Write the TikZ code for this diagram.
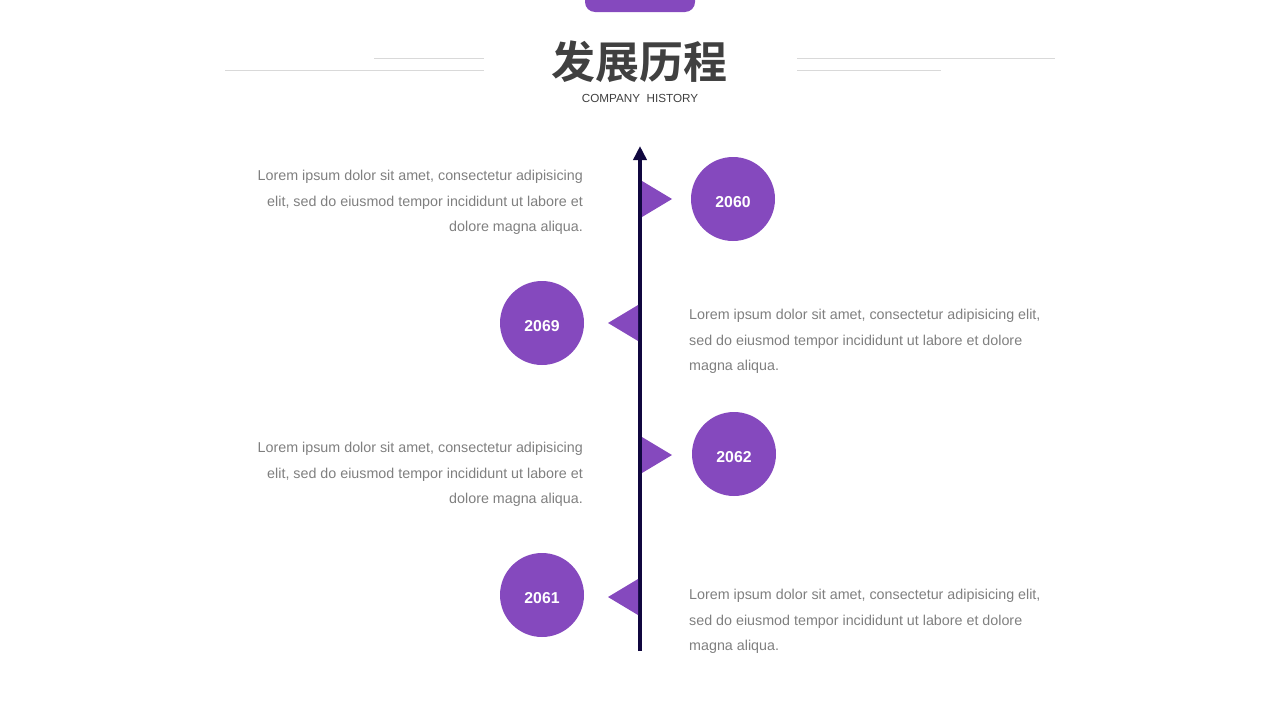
\documentclass[tikz,border=0pt]{standalone}
\usepackage{fontspec}
\setmainfont{Liberation Sans}
\newfontfamily\cjk{Noto Sans CJK SC Bold}
\usetikzlibrary{arrows.meta}
\definecolor{hpurple}{HTML}{8549BE}
\definecolor{hnavy}{HTML}{10073F}
\definecolor{htext}{HTML}{7F7F7F}
\definecolor{htitle}{HTML}{404040}
\definecolor{hrule}{HTML}{D9D9D9}
\tikzset{
  year/.style={circle, fill=hpurple, minimum size=84pt, inner sep=0pt,
    text height=11.3pt, text depth=0pt,
    text=white, font=\fontsize{15.8}{18}\selectfont\bfseries},
  para/.style={text=htext, inner sep=0pt, font=\fontsize{14.3}{25.5}\selectfont},
  flag/.style={fill=hpurple}
}
\begin{document}
\begin{tikzpicture}[x=1pt,y=-1pt]
  \useasboundingbox (0,0) rectangle (1280,720);
  \fill[hpurple, rounded corners=10pt] (585,-20) rectangle (695,12);
  \draw[hrule] (374,58) -- (484,58);
  \draw[hrule] (225,70) -- (484,70);
  \draw[hrule] (797,58) -- (1055,58);
  \draw[hrule] (797,70) -- (941,70);
  \node[text=htitle, font=\cjk\fontsize{44}{48}\selectfont] (title) at (639,62) {发展历程};
  \node[text=htitle, font=\fontsize{11.7}{14}\selectfont] (sub) at (640,98) {COMPANY\ \ HISTORY};
  \coordinate (axisbot) at (640,651);
  \coordinate (axistop) at (640,146);
  \draw[hnavy, line width=4.5pt, -{Triangle[length=14pt,width=13pt]}] (axisbot) -- (axistop);
  % flags
  \fill[flag] (642,181) -- (672,199) -- (642,217) -- cycle;
  \fill[flag] (638,305) -- (608,323) -- (638,341) -- cycle;
  \fill[flag] (642,437) -- (672,455) -- (642,473) -- cycle;
  \fill[flag] (638,579) -- (608,597) -- (638,615) -- cycle;
  % years
  \node[year] (y2060) at (733,199) {\raisebox{-3pt}{2060}};
  \node[year] (y2069) at (542,323) {\raisebox{-3pt}{2069}};
  \node[year] (y2062) at (734,454) {\raisebox{-3pt}{2062}};
  \node[year] (y2061) at (542,595) {\raisebox{-3pt}{2061}};
  % texts
  \node[para, align=right, anchor=north east] (t2060) at (583,170)
    {Lorem ipsum dolor sit amet, consectetur adipisicing\\elit, sed do eiusmod tempor incididunt ut labore et\\dolore magna aliqua.};
  \node[para, align=left, anchor=north west] (t2069) at (689,309)
    {Lorem ipsum dolor sit amet, consectetur adipisicing elit,\\sed do eiusmod tempor incididunt ut labore et dolore\\magna aliqua.};
  \node[para, align=right, anchor=north east] (t2062) at (583,442)
    {Lorem ipsum dolor sit amet, consectetur adipisicing\\elit, sed do eiusmod tempor incididunt ut labore et\\dolore magna aliqua.};
  \node[para, align=left, anchor=north west] (t2061) at (689,589)
    {Lorem ipsum dolor sit amet, consectetur adipisicing elit,\\sed do eiusmod tempor incididunt ut labore et dolore\\magna aliqua.};
\end{tikzpicture}
\end{document}
